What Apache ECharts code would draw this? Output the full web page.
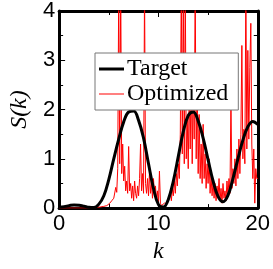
<!DOCTYPE html>
<html><head><meta charset="utf-8">
<script src="https://cdn.jsdelivr.net/npm/echarts@6/dist/echarts.min.js"></script>
<style>html,body{margin:0;padding:0;background:#fff}#c{width:273px;height:269px}</style>
</head><body><div id="c"></div>
<script>
// Target S(k), sampled every 0.5 in k
const targetStep = 0.5;
const targetValues = [0.02,0.03,0.05,0.065,0.06,0.04,0.015,0.01,0.08,0.25,
  0.58,1.0,1.4,1.75,1.95,1.97,1.78,1.42,0.9,0.4,
  0.07,0.02,0.18,0.55,1.05,1.55,1.88,1.95,1.77,1.42,
  0.98,0.55,0.24,0.13,0.26,0.6,1.0,1.38,1.65,1.76,1.7];
// Optimized S(k), sampled every 0.1 in k
const optStep = 0.1;
const optValues = [
  0,0,0,0,0,0,0,0,0,0,
  0,0,0,0,0,0,0,0,0,0,
  0,0,0,0,0,0,0,0,0,0,
  0,0,0,0,0,0,0.005,0.01,0.01,0.015,
  0.02,0.02,0.025,0.03,0.03,0.035,0.04,0.04,0.05,0.05,
  0.06,0.1,0.08,0.15,0.12,0.2,0.16,0.42,0.32,0.8,
  4.5,0.9,4.5,0.7,1.3,0.55,0.85,0.35,0.55,0.3,
  1.25,0.35,0.5,0.2,0.45,0.15,0.55,0.3,0.2,0.45,
  0.25,0.6,1.3,0.35,0.7,0.3,4.5,0.5,0.3,0.6,
  0.25,0.75,0.3,0.5,0.2,0.6,0.25,0.45,0.15,0.35,
  0.1,0.75,0.1,0.05,0.08,0.05,0.1,0.07,0.12,0.1,
  0.15,0.2,0.35,0.15,0.4,0.25,0.55,0.3,0.7,0.45,
  0.9,0.6,1.5,4.5,1.1,4.5,0.9,4.5,1.0,1.8,
  0.8,2.5,1.2,2.9,0.9,2.7,1.4,4.5,1.0,2.6,
  0.7,1.9,0.6,1.3,0.5,1.7,0.6,1.1,0.4,0.9,
  0.5,1.0,0.3,0.65,0.25,0.55,0.2,0.5,0.15,0.45,
  0.2,0.6,0.15,0.4,0.1,0.5,0.2,0.35,0.15,0.55,
  0.25,0.6,0.3,2.2,0.4,0.8,0.5,1.0,0.45,1.2,
  0.6,1.4,0.7,1.5,3.3,1.0,1.6,0.9,4.5,1.2,
  3.2,1.4,2.85,3.75,1.3,0.6,1.2,0.1,0.8,0.6,
  0.6];
const xTicks = [0,10,20];
const yTicks = [0,1,2,3,4];
const seriesNames = ['Target','Optimized'];

const targetData = targetValues.map((v,i)=>[+(i*targetStep).toFixed(2), v]);
const optData = optValues.map((v,i)=>[+(i*optStep).toFixed(2), v]);

const chart = echarts.init(document.getElementById('c'), null, {renderer:'canvas'});
const sans = 'Liberation Sans, Arial, sans-serif';
const serif = 'Liberation Serif, Times New Roman, serif';
const axisCommon = {
  min: 0,
  axisLine:{show:true, onZero:false, lineStyle:{color:'#000', width:3}},
  axisTick:{show:true, inside:true, length:6, lineStyle:{color:'#000', width:1}},
  minorTick:{show:true, splitNumber:2, length:4, lineStyle:{color:'#000', width:1}},
  splitLine:{show:false}
};
chart.setOption({
  animation:false,
  backgroundColor:'#fff',
  grid:{left:41, top:10, right:15, bottom:44, containLabel:false},
  legend:{
    data:[
      {name:seriesNames[0], icon:'path://M0,0H25V3H0Z'},
      {name:seriesNames[1], icon:'path://M0,0H25V1H0Z'}
    ],
    symbolKeepAspect:true,
    orient:'vertical', left:95, top:53,
    backgroundColor:'#fff', borderColor:'#777', borderWidth:1,
    padding:[4,10,4,4], itemGap:1, itemWidth:25, itemHeight:14,
    textStyle:{fontFamily:serif, fontSize:24, lineHeight:22, color:'#000', padding:[0,0,0,-2]}
  },
  xAxis:[
    Object.assign({}, axisCommon, {type:'value', max:20, interval:10, position:'bottom',
      name:'k', nameLocation:'middle', nameGap:28,
      nameTextStyle:{fontFamily:serif, fontStyle:'italic', fontSize:24, color:'#000'},
      axisLabel:{show:true, margin:5, fontFamily:sans, fontSize:22, color:'#000'}}),
    Object.assign({}, axisCommon, {type:'value', max:20, interval:10, position:'top',
      axisLabel:{show:false}})
  ],
  yAxis:[
    Object.assign({}, axisCommon, {type:'value', max:4, interval:1, position:'left',
      name:'S(k)', nameLocation:'middle', nameGap:21,
      nameTextStyle:{fontFamily:serif, fontStyle:'italic', fontSize:24, color:'#000'},
      axisLabel:{show:true, margin:4, fontFamily:sans, fontSize:22, color:'#000'}}),
    Object.assign({}, axisCommon, {type:'value', max:4, interval:1, position:'right',
      axisLabel:{show:false}})
  ],
  series:[
    {name:'Optimized', type:'line', data:optData, symbol:'none', z:2,
      lineStyle:{color:'#ff0000', width:1}, itemStyle:{color:'#ff0000'}},
    {name:'Target', type:'line', data:targetData, symbol:'none', smooth:0.4, z:3,
      lineStyle:{color:'#000', width:3}, itemStyle:{color:'#000'}}
  ]
});
</script></body></html>
